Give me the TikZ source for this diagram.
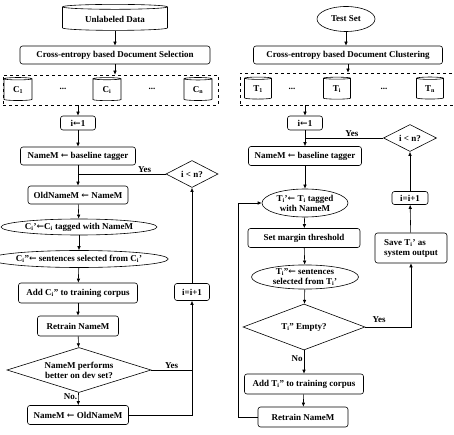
\documentclass[tikz,border=0pt]{standalone}
\usepackage{fontspec}
\setmainfont{Liberation Serif}
\newfontfamily\arrowfont{DejaVu Serif}
\newcommand{\assign}{{\arrowfont\bfseries ←}}
\usetikzlibrary{shapes.geometric,arrows.meta}

\tikzset{
  >={Latex[length=4pt,width=3.5pt]},  % small filled arrow heads
  every node/.style={font=\bfseries\fontsize{9}{10}\selectfont, inner sep=1pt},
  box/.style={draw, rounded corners=2.5pt, minimum height=18pt},
  oval/.style={draw, ellipse, inner sep=0pt},
  test/.style={draw, diamond, inner sep=0pt},
  store/.style={draw, cylinder, shape border rotate=90, aspect=0.2},
  pool/.style={draw, dashed, inner sep=0pt},
}

\begin{document}
\begin{tikzpicture}[x=1pt, y=-1pt, line width=0.6pt]
    \useasboundingbox (0,0) rectangle (454,435);
    % left: selection of unlabeled data
    \node[store, aspect=0.08, minimum width=105pt, minimum height=26pt] (data) at (115,19) {Unlabeled Data};
    \node[box, minimum width=190pt] (sel) at (115,55) {Cross-entropy based Document Selection};
    \node[pool, minimum width=215pt, minimum height=30pt] (poolC) at (110.5,90) {};
    \node[store, minimum width=28pt, minimum height=23pt] (c1) at (18,90) {C\textsubscript{1}};
    \node (dotsCa) at (63,89) {...};
    \node[store, minimum width=28pt, minimum height=23pt] (ci) at (107,90) {C\textsubscript{i}};
    \node (dotsCb) at (152,89) {...};
    \node[store, minimum width=28pt, minimum height=23pt] (cn) at (198,90) {C\textsubscript{n}};
    \node[box, minimum width=35pt, minimum height=14pt] (init) at (78,123) {i\assign1};
    \node[box, minimum width=115pt] (base) at (78,156) {NameM \assign{} baseline tagger};
    \node[test, aspect=1.9, minimum width=52pt, minimum height=27pt] (cond) at (192,174) {i < n?};
    \node[box, minimum width=100pt] (old) at (78,195) {OldNameM \assign{} NameM};
    \node[oval, minimum width=156pt, minimum height=16pt] (tag) at (79,227) {C\textsubscript{i}’\assign C\textsubscript{i} tagged with NameM};
    \node[oval, minimum width=156pt, minimum height=17pt] (selc) at (79,259) {C\textsubscript{i}”\assign{} sentences selected from C\textsubscript{i}’};
    \node[box, minimum width=119pt, minimum height=20pt] (add) at (78,293) {Add C\textsubscript{i}” to training corpus};
    \node[box, minimum width=81pt, minimum height=20pt] (retrain) at (78,326) {Retrain NameM};
    \node[test, aspect=3.2, minimum width=144pt, minimum height=45pt, align=center] (better) at (79,370) {NameM performs\\better on dev set?};
    \node[box, minimum width=101pt, minimum height=19pt] (revert) at (78,415) {NameM \assign{} OldNameM};
    \node[box, minimum width=35pt, minimum height=17pt] (incr) at (192,292) {i=i+1};

    \draw[->] (data) -- (sel);
    \draw[->] (sel.south) -- (sel.south |- poolC.north);
    \draw[->] (init |- poolC.south) -- (init);
    \draw[->] (init) -- (base);
    \draw[->] (base) -- (old);
    \draw (cond) -- node[above, pos=0.24]{Yes} (cond -| old);
    \draw[->] (old) -- (tag);
    \draw[->] (tag) -- (selc);
    \draw[->] (selc) -- (add);
    \draw[->] (add) -- (retrain);
    \draw[->] (retrain) -- (better);
    \draw[->] (better) -- node[left, pos=0.35]{No.} (revert);
    \draw (better) -- node[above]{Yes} (better -| incr);
    \draw[->] (revert) -| (incr);
    \draw[->] (incr) -- (cond);

    % right: clustering of the test set
    \node[oval, minimum width=58pt, minimum height=25pt] (testset) at (346,19) {Test Set};
    \node[box, minimum width=189pt] (clus) at (348,55) {Cross-entropy based Document Clustering};
    \node[pool, minimum width=216pt, minimum height=32pt] (poolT) at (348,89) {};
    \node[store, minimum width=27pt, minimum height=22pt] (t1) at (258,89) {T\textsubscript{1}};
    \node (dotsTa) at (292,89) {...};
    \node[store, minimum width=27pt, minimum height=22pt] (ti) at (337,89) {T\textsubscript{i}};
    \node (dotsTb) at (384,89) {...};
    \node[store, minimum width=27pt, minimum height=22pt] (tn) at (430,89) {T\textsubscript{n}};
    \node[box, minimum width=35pt, minimum height=14pt] (init2) at (305,123) {i\assign1};
    \node[test, aspect=1.9, minimum width=53pt, minimum height=27pt] (cond2) at (410,138) {i < n?};
    \node[box, minimum width=113pt, minimum height=19pt] (base2) at (305,156) {NameM \assign{} baseline tagger};
    \node[oval, minimum width=86pt, minimum height=28pt, align=center] (tag2) at (305,203) {T\textsubscript{i}’\assign{} T\textsubscript{i} tagged\\with NameM};
    \node[box, minimum width=112pt, minimum height=19pt] (margin) at (304,238) {Set margin threshold};
    \node[oval, minimum width=107pt, minimum height=24pt, align=center] (sel2) at (305,277) {T\textsubscript{i}”\assign{} sentences\\selected from T\textsubscript{i}’};
    \node[test, aspect=2.65, minimum width=122pt, minimum height=46pt] (empty) at (304,327) {T\textsubscript{i}” Empty?};
    \node[box, minimum width=119pt, minimum height=20pt] (add2) at (304,384) {Add T\textsubscript{i}” to training corpus};
    \node[box, minimum width=90pt, minimum height=20pt] (retrain2) at (303,417) {Retrain NameM};
    \node[box, minimum width=72pt, minimum height=30pt, align=left] (save) at (411,248) {Save T\textsubscript{i}’ as\\system output};
    \node[box, minimum width=36pt, minimum height=13pt] (incr2) at (410,198) {i=i+1};

    \draw[->] (testset) -- (testset |- clus.north);
    \draw[->] (clus.south) -- (clus.south |- poolT.north);
    \draw[->] (init2 |- poolT.south) -- (init2);
    \draw[->] (init2) -- (base2);
    \draw (cond2) -- node[above, pos=0.4]{Yes} (cond2 -| base2);
    \draw[->] (base2) -- (tag2);
    \draw[->] (tag2) -- (margin);
    \draw[->] (margin) -- (sel2);
    \draw[->] (sel2) -- (empty);
    \draw[->] (empty) -- node[left, pos=0.35]{No} (add2);
    \draw[->] (add2) -- (retrain2);
    \draw[->] (retrain2.west) -- ++(-19,0) |- (tag2.west);
    \draw[->] (empty.east) -| node[above, pos=0.15, yshift=3pt]{Yes} (save);
    \draw[->] (save) -- (incr2);
    \draw[->] (incr2) -- (cond2);
\end{tikzpicture}
\end{document}
